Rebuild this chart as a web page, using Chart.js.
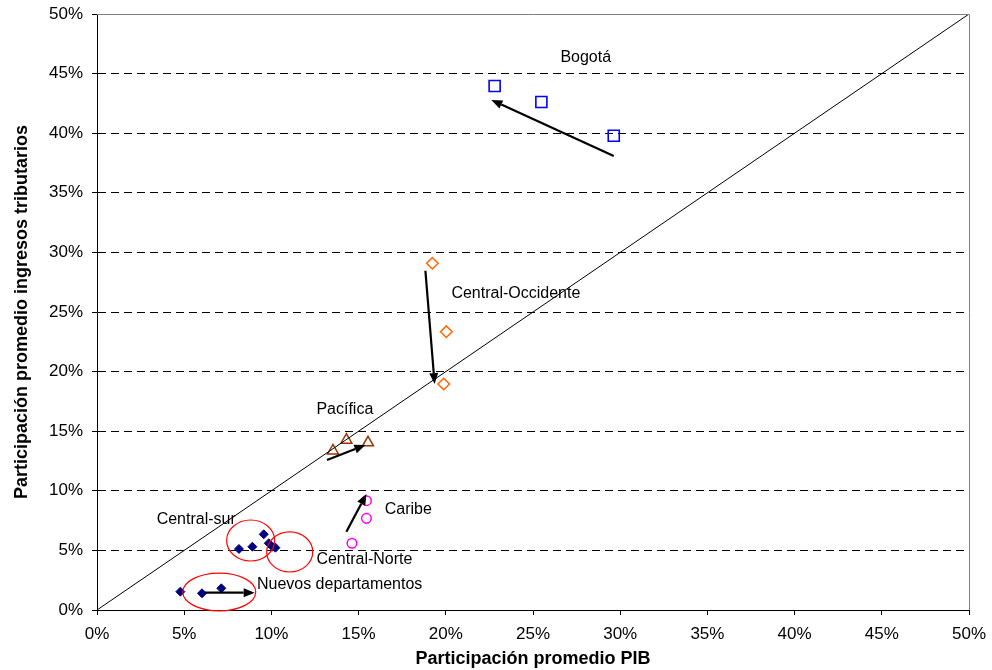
<!DOCTYPE html>
<html><head><meta charset="utf-8">
<script src="https://cdn.jsdelivr.net/npm/chart.js@4"></script>
<style>html,body{margin:0;padding:0;background:#fff}canvas{display:block}</style>
</head><body>
<canvas id="c" width="992" height="670"></canvas>
<script>
// ---- Data (percent units) ----
const tickValues = [0, 5, 10, 15, 20, 25, 30, 35, 40, 45, 50];

const bogotaX = [22.80, 25.48, 29.63];
const bogotaY = [43.96, 42.62, 39.79];

const occidenteX = [19.23, 20.03, 19.88];
const occidenteY = [29.09, 23.35, 18.96];

const pacificaX = [13.53, 14.30, 15.54];
const pacificaY = [13.36, 14.26, 14.04];

const caribeX = [15.45, 15.45, 14.62];
const caribeY = [9.17, 7.69, 5.60];

const otrosX = [4.78, 6.02, 7.13, 8.14, 8.91, 9.56, 9.85, 10.06, 10.23];
const otrosY = [1.54, 1.40, 1.82, 5.12, 5.31, 6.35, 5.60, 5.31, 5.23];

const diagX = [0, 50];
const diagY = [0, 50];

const labelTexts = ['Bogotá', 'Central-Occidente', 'Pacífica', 'Caribe', 'Central-sur', 'Central-Norte', 'Nuevos departamentos'];
const labelX = [26.57, 20.32, 12.58, 16.50, 3.42, 12.58, 9.17];
const labelY = [46.31, 26.55, 16.78, 8.39, 7.55, 4.19, 2.14];

const arrowFromX = [29.63, 18.83, 13.19, 14.30, 6.18];
const arrowFromY = [38.09, 28.46, 12.58, 6.57, 1.45];
const arrowToX   = [22.61, 19.36, 15.39, 15.45, 9.04];
const arrowToY   = [42.79, 18.96, 13.84, 9.73, 1.45];

const ellipseX  = [8.81, 11.05, 7.01];
const ellipseY  = [5.83, 4.87, 1.51];
const ellipseRX = [1.376, 1.32, 2.09];
const ellipseRY = [1.72, 1.68, 1.59];

const pts = (xs, ys) => xs.map((x, i) => ({x, y: ys[i]}));
const FONT = '"Liberation Sans", Arial, sans-serif';

const annot = {
  id: 'annot',
  afterDatasetsDraw(chart) {
    const {ctx, chartArea: a, scales: {x, y}} = chart;
    ctx.save();
    // gray plot frame top/right
    ctx.strokeStyle = '#808080';
    ctx.lineWidth = 1;
    ctx.beginPath();
    ctx.moveTo(a.left, a.top + 0.5);
    ctx.lineTo(a.right + 0.5, a.top + 0.5);
    ctx.lineTo(a.right + 0.5, a.bottom);
    ctx.stroke();
    // ellipses
    ctx.strokeStyle = '#FF0000';
    ctx.lineWidth = 1.2;
    ellipseX.forEach((ex, i) => {
      const cx = x.getPixelForValue(ex), cy = y.getPixelForValue(ellipseY[i]);
      const rx = Math.abs(x.getPixelForValue(ex + ellipseRX[i]) - cx);
      const ry = Math.abs(y.getPixelForValue(ellipseY[i] + ellipseRY[i]) - cy);
      ctx.beginPath();
      ctx.ellipse(cx, cy, rx, ry, 0, 0, Math.PI * 2);
      ctx.stroke();
    });
    // arrows
    ctx.strokeStyle = '#000';
    ctx.fillStyle = '#000';
    ctx.lineWidth = 2.2;
    arrowFromX.forEach((fx, i) => {
      const x1 = x.getPixelForValue(fx), y1 = y.getPixelForValue(arrowFromY[i]);
      const x2 = x.getPixelForValue(arrowToX[i]), y2 = y.getPixelForValue(arrowToY[i]);
      const ang = Math.atan2(y2 - y1, x2 - x1);
      const hl = 11, hw = 4.5;
      const bx = x2 - hl * Math.cos(ang), by = y2 - hl * Math.sin(ang);
      ctx.beginPath(); ctx.moveTo(x1, y1); ctx.lineTo(bx, by); ctx.stroke();
      ctx.beginPath();
      ctx.moveTo(x2, y2);
      ctx.lineTo(bx - hw * Math.sin(ang), by + hw * Math.cos(ang));
      ctx.lineTo(bx + hw * Math.sin(ang), by - hw * Math.cos(ang));
      ctx.closePath(); ctx.fill();
    });
    // labels
    ctx.font = '16px ' + FONT;
    ctx.textAlign = 'left';
    ctx.textBaseline = 'middle';
    ctx.fillStyle = '#000';
    labelTexts.forEach((t, i) => {
      ctx.fillText(t, x.getPixelForValue(labelX[i]), y.getPixelForValue(labelY[i]));
    });
    ctx.restore();
  }
};

new Chart(document.getElementById('c'), {
  type: 'scatter',
  data: {
    datasets: [
      {label: 'diag', data: pts(diagX, diagY), showLine: true, borderColor: '#000', borderWidth: 1, pointRadius: 0, fill: false},
      {label: 'Bogotá', data: pts(bogotaX, bogotaY), pointStyle: 'rect', pointRadius: 7.8, borderColor: '#0000FF', backgroundColor: 'rgba(0,0,0,0)', borderWidth: 1.6},
      {label: 'Central-Occidente', data: pts(occidenteX, occidenteY), pointStyle: 'rectRot', pointRadius: 5.8, borderColor: '#FF6600', backgroundColor: 'rgba(0,0,0,0)', borderWidth: 1.5},
      {label: 'Pacífica', data: pts(pacificaX, pacificaY), pointStyle: 'triangle', pointRadius: 6.3, borderColor: '#993300', backgroundColor: 'rgba(0,0,0,0)', borderWidth: 1.5},
      {label: 'Caribe', data: pts(caribeX, caribeY), pointStyle: 'circle', pointRadius: 4.8, borderColor: '#FF00FF', backgroundColor: 'rgba(0,0,0,0)', borderWidth: 1.5},
      {label: 'Otros', data: pts(otrosX, otrosY), pointStyle: 'rectRot', pointRadius: 4.5, borderColor: '#000080', backgroundColor: '#000080', borderWidth: 1}
    ]
  },
  options: {
    responsive: false,
    animation: false,
    devicePixelRatio: 1,
    layout: {padding: {top: 14, right: 23, left: 0, bottom: 0}},
    plugins: {legend: {display: false}, tooltip: {enabled: false}},
    events: [],
    scales: {
      x: {
        type: 'linear', min: 0, max: 50,
        afterBuildTicks: s => { s.ticks = tickValues.map(v => ({value: v})); },
        ticks: {callback: v => v + '%', color: '#000', font: {size: 17, family: FONT}, padding: 9, maxRotation: 0, autoSkip: false},
        grid: {drawOnChartArea: false, drawTicks: true, tickLength: 5, tickColor: '#000'},
        border: {color: '#000', width: 1},
        title: {display: true, text: 'Participación promedio PIB', color: '#000', font: {size: 18, weight: 'bold', family: FONT}, padding: {top: 0, bottom: 0}},
        afterFit: s => { s.height = 60; s.paddingLeft = 0; s.paddingRight = 0; }
      },
      y: {
        type: 'linear', min: 0, max: 50,
        afterBuildTicks: s => { s.ticks = tickValues.map(v => ({value: v})); },
        ticks: {callback: v => v + '%', color: '#000', font: {size: 17, family: FONT}, padding: 9, autoSkip: false},
        grid: {
          color: c => (c.tick && (c.tick.value === 0 || c.tick.value === 50)) ? 'rgba(0,0,0,0)' : '#000',
          lineWidth: 1, tickLength: 5, tickColor: '#000', tickBorderDash: []
        },
        border: {color: '#000', width: 1, dash: [8, 5]},
        title: {display: true, text: 'Participación promedio ingresos tributarios', color: '#000', font: {size: 18, weight: 'bold', family: FONT}, padding: {top: 11, bottom: 0}},
        afterFit: s => { s.width = 97; s.paddingTop = 0; s.paddingBottom = 0; }
      }
    }
  },
  plugins: [annot]
});
</script>
</body></html>
